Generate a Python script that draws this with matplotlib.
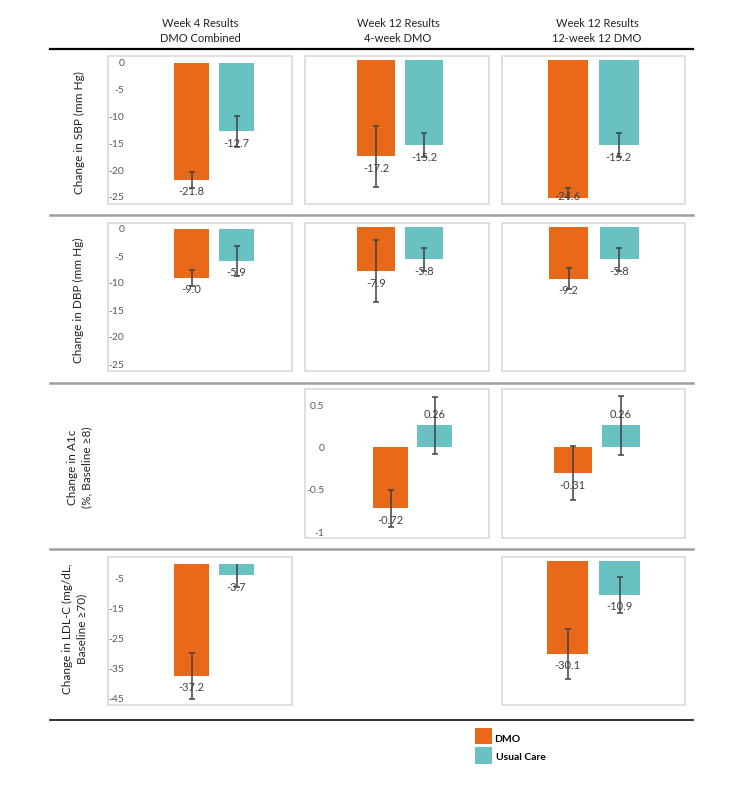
import matplotlib
matplotlib.use("Agg")
import matplotlib.pyplot as plt
from matplotlib.patches import Rectangle
from matplotlib.lines import Line2D

plt.rcParams['font.family'] = ['Lato', 'DejaVu Sans']

# ---------------- data ----------------
col_titles = ["Week 4 Results\nDMO Combined", "Week 12 Results\n4-week DMO", "Week 12 Results\n12-week 12 DMO"]
row_titles = ["Change in SBP (mm Hg)", "Change in DBP (mm Hg)",
              "Change in A1c\n(%, Baseline \u22658)", "Change in LDL-C (mg/dL,\nBaseline \u226570)"]
series_names = ["DMO", "Usual Care"]

dmo_sbp = [-21.8, -17.2, -24.6]
uc_sbp = [-12.7, -15.2, -15.2]
dmo_sbp_err = [1.5, 5.4, 1.7]
uc_sbp_err = [2.9, 2.1, 2.1]

dmo_dbp = [-9.0, -7.9, -9.2]
uc_dbp = [-5.9, -5.8, -5.8]
dmo_dbp_err = [1.5, 5.5, 1.8]
uc_dbp_err = [2.8, 2.1, 2.1]

dmo_a1c = [None, -0.72, -0.31]
uc_a1c = [None, 0.26, 0.26]
dmo_a1c_err = [None, 0.22, 0.32]
uc_a1c_err = [None, 0.34, 0.35]

dmo_ldl = [-37.2, None, -30.1]
uc_ldl = [-3.7, None, -10.9]
dmo_ldl_err = [7.7, None, 8.0]
uc_ldl_err = [4.0, None, 5.8]

row_ylims = [(-25, 0), (-25, 0), (-1, 0.63), (-45, 0)]
row_yticks = [[0, -5, -10, -15, -20, -25], [0, -5, -10, -15, -20, -25],
              [0.5, 0, -0.5, -1], [-5, -15, -25, -35, -45]]
row_ytick_labels = [["0", "-5", "-10", "-15", "-20", "-25"], ["0", "-5", "-10", "-15", "-20", "-25"],
                    ["0.5", "0", "-0.5", "-1"], ["-5", "-15", "-25", "-35", "-45"]]
row_fmt = ["{:.1f}", "{:.1f}", "{:.2f}", "{:.1f}"]

rows_data = [
    (dmo_sbp, uc_sbp, dmo_sbp_err, uc_sbp_err),
    (dmo_dbp, uc_dbp, dmo_dbp_err, uc_dbp_err),
    (dmo_a1c, uc_a1c, dmo_a1c_err, uc_a1c_err),
    (dmo_ldl, uc_ldl, dmo_ldl_err, uc_ldl_err),
]

# ---------------- styling / layout (pixels) ----------------
W, H = 740, 790
C_DMO = "#E8691A"
C_UC = "#69C1C2"
C_ERR = "#404040"
C_TXT = "#404040"
C_TICK = "#595959"
C_BOX = "#D9D9D9"

fig = plt.figure(figsize=(W / 100, H / 100), dpi=100)


def fx(x):
    return x / W


def fy(y):
    return 1 - y / H


# chart-area boxes
box_cols = [(108, 292), (305, 489), (502, 685)]
box_rows = [(56, 204), (223, 371), (389, 538), (557, 705)]

# plot-area vertical extents per row/col (top px, bottom px)
plot_y = [
    [(63, 197), (60, 200), (60, 200)],
    [(229, 364), (227, 367), (227, 367)],
    [(394, 532), (394, 532), (394, 531)],
    [(564, 699), (561, 700), (561, 700)],
]
# plot-area horizontal: (left, right, center0, center1, width)
plot_x = [
    [(130, 288, 191.5, 236.5, 35), (310, 485, 376, 424, 38), (507, 680, 567.5, 618.5, 40)],
    [(130, 288, 191.5, 236.5, 35), (310, 485, 376, 424, 38), (507, 680, 568.5, 619, 39)],
    [(130, 288, 191.5, 236.5, 35), (330, 485, 390.5, 434.5, 35), (507, 680, 572.5, 621, 38)],
    [(130, 288, 191.5, 236.5, 35), (310, 485, 376, 424, 38), (507, 680, 567.5, 619.5, 41)],
]

# horizontal rules
fig.add_artist(Line2D([fx(50), fx(693)], [fy(49)] * 2, color="black", lw=1.6))
for yy in (215, 383, 549):
    fig.add_artist(Line2D([fx(50), fx(693)], [fy(yy)] * 2, color="#A0A0A0", lw=1.8))
fig.add_artist(Line2D([fx(50), fx(693)], [fy(720)] * 2, color="#222222", lw=1.3))

# column headers
header_x = [200, 398, 597]
for t, xx in zip(col_titles, header_x):
    fig.text(fx(xx), fy(31), t, ha="center", va="center", fontsize=8, color="#222222", linespacing=1.5)

# row titles
row_title_pos = [(79, 133), (78, 300), (80, 467), (75, 629)]
for t, (xx, yy) in zip(row_titles, row_title_pos):
    fig.text(fx(xx), fy(yy), t, ha="center", va="center", rotation=90, fontsize=8.5,
             color="#222222", linespacing=1.35)

for r, (dmo, uc, dmo_e, uc_e) in enumerate(rows_data):
    first_shown = True
    for c in range(3):
        if dmo[c] is None:
            continue
        bx0, bx1 = box_cols[c]
        by0, by1 = box_rows[r]
        fig.add_artist(Rectangle((fx(bx0), fy(by1)), (bx1 - bx0) / W, (by1 - by0) / H,
                                 transform=fig.transFigure, fill=False, edgecolor=C_BOX, lw=1.2))
        ty, bty = plot_y[r][c]
        lx, rx, c0, c1, wpx = plot_x[r][c]
        ax = fig.add_axes([fx(lx), fy(bty), (rx - lx) / W, (bty - ty) / H])
        s = c1 - c0
        ax.set_xlim((lx - c0) / s, (rx - c0) / s)
        ax.set_ylim(*row_ylims[r])
        vals = [dmo[c], uc[c]]
        errs = [dmo_e[c], uc_e[c]]
        pos = [0, 1]
        ax.bar(pos, vals, width=wpx / s, color=[C_DMO, C_UC], zorder=2)
        ax.errorbar(pos, vals, yerr=errs, fmt="none", ecolor=C_ERR, elinewidth=1.1,
                    capsize=2.5, capthick=1.1, zorder=3)
        ppu = (bty - ty) / (row_ylims[r][1] - row_ylims[r][0])
        for p, v in zip(pos, vals):
            if v >= 0:
                off = 11
            else:
                off = -12
                if v - 12 / ppu < row_ylims[r][0]:
                    off = 1
            ax.annotate(row_fmt[r].format(v), (p, v), xytext=(0, off), textcoords="offset pixels",
                        ha="center", va="center", fontsize=8, color=C_TXT, zorder=4,
                        annotation_clip=False)
        for sp in ax.spines.values():
            sp.set_visible(False)
        ax.set_xticks([])
        ax.patch.set_alpha(0)
        if first_shown:
            ax.set_yticks(row_yticks[r])
            ax.set_yticklabels(row_ytick_labels[r])
            ax.tick_params(axis="y", length=0, pad=4, labelsize=7.5, labelcolor=C_TICK)
            first_shown = False
        else:
            ax.set_yticks([])

# legend
fig.add_artist(Rectangle((fx(475), fy(744)), 17 / W, 16 / H, transform=fig.transFigure,
                         facecolor=C_DMO, edgecolor="none"))
fig.add_artist(Rectangle((fx(475), fy(764)), 17 / W, 17 / H, transform=fig.transFigure,
                         facecolor=C_UC, edgecolor="none"))
fig.text(fx(494), fy(739), series_names[0], ha="left", va="center", fontsize=7.5,
         fontweight="bold", color="black")
fig.text(fx(496), fy(758), series_names[1], ha="left", va="center", fontsize=7.5,
         fontweight="bold", color="black")

fig.savefig("out.png", dpi=100)
